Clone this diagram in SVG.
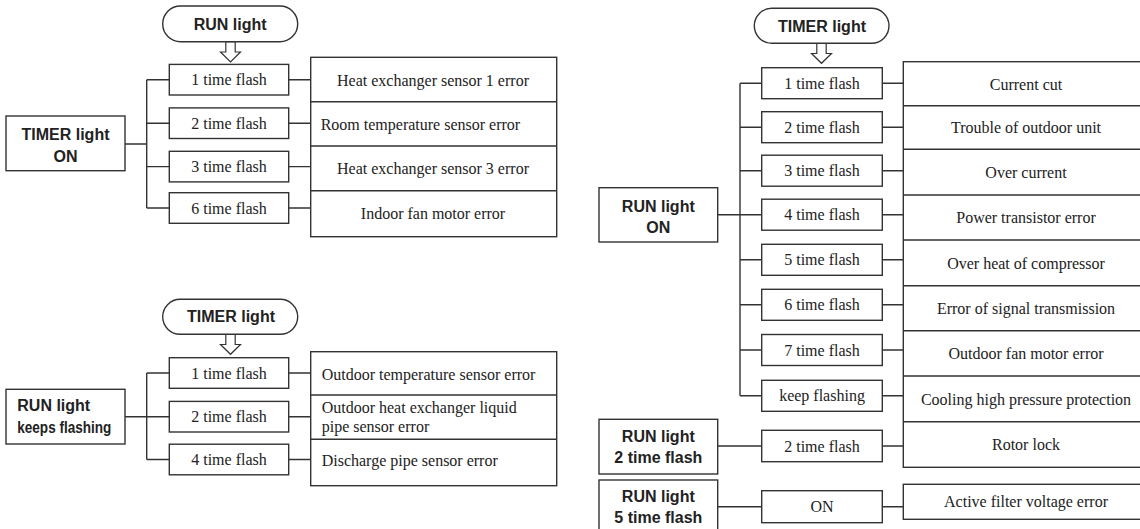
<svg xmlns="http://www.w3.org/2000/svg" width="1140" height="529" viewBox="0 0 1140 529">
<style>
.bx{fill:#fff;stroke:#333;stroke-width:1.4}
.ln{fill:none;stroke:#333;stroke-width:1.4}
.ar{fill:#fff;stroke:#333;stroke-width:1.2;stroke-linejoin:miter}
.s{font-family:"Liberation Serif","Times New Roman",serif;font-size:16px;fill:#222}
.c{text-anchor:middle}
.b{font-family:"Liberation Sans",Arial,sans-serif;font-size:16px;font-weight:bold;fill:#222}
</style>
<rect width="1140" height="529" fill="#fff"/>

<g id="connectors">
  <!-- top-left -->
  <path class="ln" d="M125,144H146.7M146.7,79.7V208M146.7,79.7H169.3M146.7,123.2H169.3M146.7,166.6H169.3M146.7,208H169.3"/>
  <path class="ln" d="M288.7,79.7H310.7M288.7,123.2H310.7M288.7,166.6H310.7M288.7,208H310.7"/>
  <polygon class="ar" points="225.8,41.7 225.8,52 220.5,52 230.5,62 240.5,52 235.2,52 235.2,41.7"/>
  <!-- bottom-left -->
  <path class="ln" d="M125,416.7H146.7M146.7,373V459.5M146.7,373H169.3M146.7,416.7H169.3M146.7,459.5H169.3"/>
  <path class="ln" d="M288.7,373H310.7M288.7,416.7H310.7M288.7,459.5H310.7"/>
  <polygon class="ar" points="225.8,334.3 225.8,344.5 220.5,344.5 230.5,354.3 240.5,344.5 235.2,344.5 235.2,334.3"/>
  <!-- right -->
  <path class="ln" d="M717.7,214.7H740M740,83.2V395.8M740,83.2H761.7M740,127.2H761.7M740,170.7H761.7M740,214.7H761.7M740,259.8H761.7M740,304.8H761.7M740,350H761.7M740,395.8H761.7"/>
  <path class="ln" d="M882.3,83.2H903.3M882.3,127.2H903.3M882.3,170.7H903.3M882.3,214.7H903.3M882.3,259.8H903.3M882.3,304.8H903.3M882.3,350H903.3M882.3,395.8H903.3"/>
  <path class="ln" d="M717.7,446H761.7M882.3,446H903.3M717.7,506.7H761.7M882.3,506.7H903.3"/>
  <polygon class="ar" points="816.8,43.3 816.8,53.5 811.5,53.5 821.5,63.3 831.5,53.5 826.2,53.5 826.2,43.3"/>
</g>

<!-- ===== Top-left section ===== -->
<g id="pill-run-light">
  <rect class="bx" x="162.7" y="6" width="135" height="35.7" rx="17.8"/>
  <text class="b c" x="230.2" y="29.5">RUN light</text>
</g>
<g id="timer-light-on">
  <rect class="bx" x="6" y="116" width="119" height="54.7"/>
  <text class="b c" x="65.5" y="140">TIMER light</text>
  <text class="b c" x="65.5" y="162">ON</text>
</g>
<g id="tl-flash-1"><rect class="bx" x="169.3" y="64.4" width="119.4" height="30.6"/><text class="s c" x="229" y="85.2">1 time flash</text></g>
<g id="tl-flash-2"><rect class="bx" x="169.3" y="107.9" width="119.4" height="30.6"/><text class="s c" x="229" y="128.7">2 time flash</text></g>
<g id="tl-flash-3"><rect class="bx" x="169.3" y="151.3" width="119.4" height="30.6"/><text class="s c" x="229" y="172.1">3 time flash</text></g>
<g id="tl-flash-6"><rect class="bx" x="169.3" y="192.7" width="119.4" height="30.6"/><text class="s c" x="229" y="213.5">6 time flash</text></g>
<g id="tl-errors">
  <rect class="bx" x="310.7" y="57.3" width="246" height="179.4"/>
  <path class="ln" d="M310.7,101.7H556.7M310.7,146H556.7M310.7,190.7H556.7"/>
  <text class="s c" x="433" y="86.3">Heat exchanger sensor 1 error</text>
  <text class="s" x="320.7" y="130">Room temperature sensor error</text>
  <text class="s c" x="433" y="173.5">Heat exchanger sensor 3 error</text>
  <text class="s c" x="433" y="218.5">Indoor fan motor error</text>
</g>

<!-- ===== Bottom-left section ===== -->
<g id="pill-timer-light-b">
  <rect class="bx" x="162.7" y="299.3" width="135" height="35" rx="17.5"/>
  <text class="b c" x="231" y="321.7">TIMER light</text>
</g>
<g id="run-light-keeps-flashing">
  <rect class="bx" x="6" y="389.3" width="119" height="54.7"/>
  <text class="b" x="17.3" y="410.7">RUN light</text>
  <text class="b" x="17.3" y="432.7" textLength="94" lengthAdjust="spacingAndGlyphs">keeps flashing</text>
</g>
<g id="bl-flash-1"><rect class="bx" x="169.3" y="357.7" width="119.4" height="30.6"/><text class="s c" x="229" y="378.5">1 time flash</text></g>
<g id="bl-flash-2"><rect class="bx" x="169.3" y="401.4" width="119.4" height="30.6"/><text class="s c" x="229" y="422.2">2 time flash</text></g>
<g id="bl-flash-4"><rect class="bx" x="169.3" y="444.2" width="119.4" height="30.6"/><text class="s c" x="229" y="465">4 time flash</text></g>
<g id="bl-errors">
  <rect class="bx" x="310.7" y="351.7" width="246" height="134"/>
  <path class="ln" d="M310.7,395H556.7M310.7,439.3H556.7"/>
  <text class="s" x="321.7" y="380">Outdoor temperature sensor error</text>
  <text class="s" x="321.7" y="413">Outdoor heat exchanger liquid</text>
  <text class="s" x="321.7" y="431.5">pipe sensor error</text>
  <text class="s" x="321.7" y="466">Discharge pipe sensor error</text>
</g>

<!-- ===== Right section ===== -->
<g id="pill-timer-light-r">
  <rect class="bx" x="754.3" y="8.3" width="134.7" height="35" rx="17.5"/>
  <text class="b c" x="822" y="31.5">TIMER light</text>
</g>
<g id="run-light-on">
  <rect class="bx" x="599" y="187.7" width="118.7" height="54.3"/>
  <text class="b c" x="658.3" y="212.3">RUN light</text>
  <text class="b c" x="658.3" y="232.7">ON</text>
</g>
<g id="r-flash-1"><rect class="bx" x="761.7" y="67.7" width="120.6" height="31"/><text class="s c" x="822" y="88.7">1 time flash</text></g>
<g id="r-flash-2"><rect class="bx" x="761.7" y="111.7" width="120.6" height="31"/><text class="s c" x="822" y="132.7">2 time flash</text></g>
<g id="r-flash-3"><rect class="bx" x="761.7" y="155.2" width="120.6" height="31"/><text class="s c" x="822" y="176.2">3 time flash</text></g>
<g id="r-flash-4"><rect class="bx" x="761.7" y="199.2" width="120.6" height="31"/><text class="s c" x="822" y="220.2">4 time flash</text></g>
<g id="r-flash-5"><rect class="bx" x="761.7" y="244.3" width="120.6" height="31"/><text class="s c" x="822" y="265.3">5 time flash</text></g>
<g id="r-flash-6"><rect class="bx" x="761.7" y="289.3" width="120.6" height="31"/><text class="s c" x="822" y="310.3">6 time flash</text></g>
<g id="r-flash-7"><rect class="bx" x="761.7" y="334.5" width="120.6" height="31"/><text class="s c" x="822" y="355.5">7 time flash</text></g>
<g id="r-flash-keep"><rect class="bx" x="761.7" y="380.3" width="120.6" height="31"/><text class="s c" x="822" y="401.3">keep flashing</text></g>
<g id="r-errors">
  <rect class="bx" x="903.3" y="61.7" width="240" height="405.6"/>
  <path class="ln" d="M903.3,105.7H1143M903.3,149.3H1143M903.3,195H1143M903.3,240H1143M903.3,285.7H1143M903.3,330.7H1143M903.3,376H1143M903.3,421.7H1143"/>
  <text class="s c" x="1026" y="89.5">Current cut</text>
  <text class="s c" x="1026" y="133.3">Trouble of outdoor unit</text>
  <text class="s c" x="1026" y="178">Over current</text>
  <text class="s c" x="1026" y="223.3">Power transistor error</text>
  <text class="s c" x="1026" y="268.7">Over heat of compressor</text>
  <text class="s c" x="1026" y="314">Error of signal transmission</text>
  <text class="s c" x="1026" y="359.2">Outdoor fan motor error</text>
  <text class="s c" x="1026" y="404.7">Cooling high pressure protection</text>
  <text class="s c" x="1026" y="450.3">Rotor lock</text>
</g>
<g id="run-light-2-time-flash">
  <rect class="bx" x="599" y="419.3" width="118.7" height="54.7"/>
  <text class="b c" x="658.3" y="442.3">RUN light</text>
  <text class="b c" x="658.3" y="463.3">2 time flash</text>
</g>
<g id="r-flash-2b"><rect class="bx" x="761.7" y="430.3" width="120.6" height="31.4"/><text class="s c" x="822" y="451.5">2 time flash</text></g>
<g id="run-light-5-time-flash">
  <rect class="bx" x="599" y="480" width="118.7" height="55"/>
  <text class="b c" x="658.3" y="502.3">RUN light</text>
  <text class="b c" x="658.3" y="523.3">5 time flash</text>
</g>
<g id="r-on"><rect class="bx" x="761.7" y="490.7" width="120.6" height="32"/><text class="s c" x="822" y="512.2">ON</text></g>
<g id="r-active-filter">
  <rect class="bx" x="903.3" y="484.3" width="240" height="35"/>
  <text class="s c" x="1026" y="506.8">Active filter voltage error</text>
</g>
</svg>
